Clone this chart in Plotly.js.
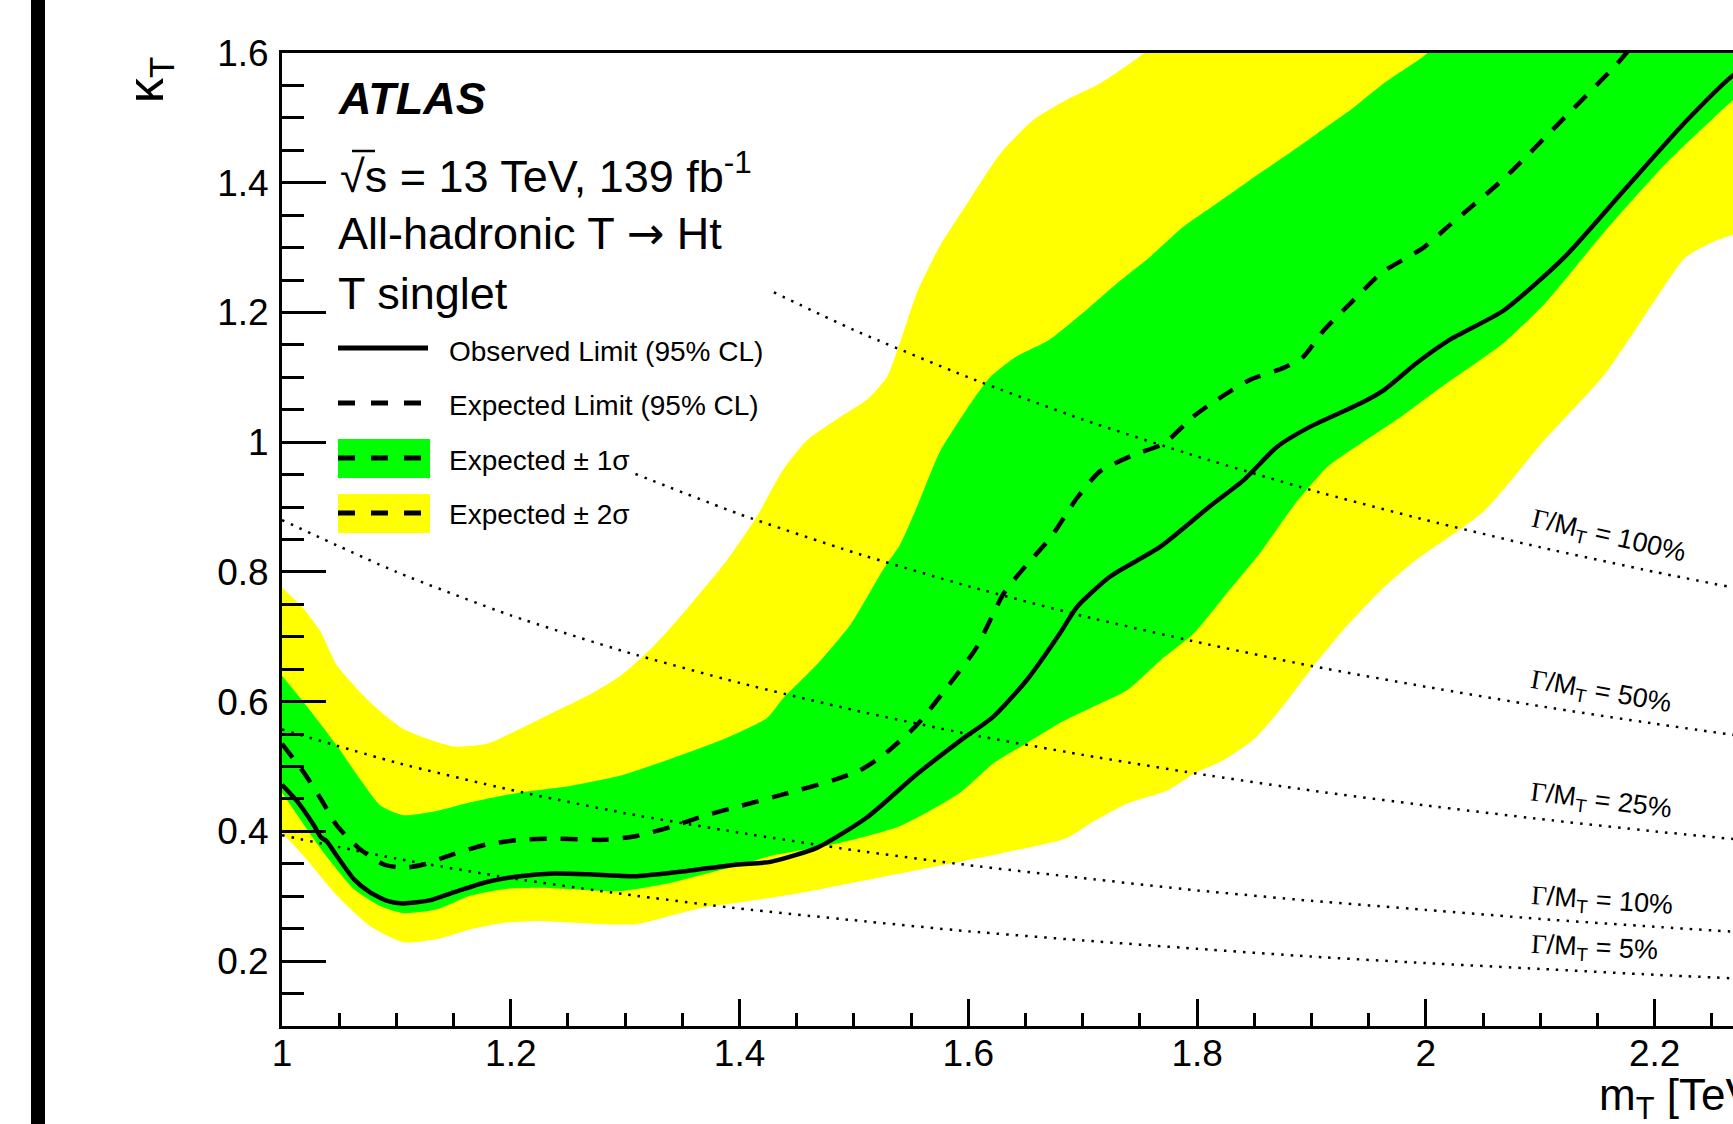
<!DOCTYPE html>
<html>
<head>
<meta charset="utf-8">
<script src="https://cdn.plot.ly/plotly-3.0.1.min.js"></script>
<style>
html,body{margin:0;padding:0;background:#fff;overflow:hidden;}
#chart{width:1733px;height:1124px;}
</style>
</head>
<body>
<div id="chart"></div>
<script>
// ---------------- data ----------------
const obsM = [1.000,1.013,1.028,1.034,1.039,1.048,1.063,1.077,1.092,1.106,1.130,1.150,1.179,1.208,1.238,1.267,1.310,1.354,1.398,1.427,1.468,1.511,1.555,1.593,1.622,1.651,1.680,1.695,1.724,1.768,1.811,1.841,1.870,1.899,1.943,1.963,1.992,2.021,2.068,2.121,2.174,2.227,2.269,2.290];
const obsK = [0.472,0.447,0.409,0.391,0.385,0.362,0.326,0.306,0.293,0.289,0.294,0.306,0.322,0.331,0.335,0.334,0.331,0.339,0.349,0.353,0.375,0.421,0.488,0.540,0.577,0.633,0.705,0.746,0.793,0.839,0.901,0.942,0.993,1.024,1.060,1.080,1.122,1.158,1.203,1.285,1.390,1.494,1.566,1.585];

const expM = [1.000,1.019,1.034,1.048,1.068,1.089,1.106,1.124,1.150,1.179,1.208,1.238,1.281,1.310,1.340,1.369,1.398,1.438,1.482,1.505,1.526,1.555,1.584,1.607,1.631,1.651,1.672,1.695,1.715,1.744,1.771,1.797,1.817,1.846,1.876,1.893,1.911,1.934,1.962,1.998,2.021,2.068,2.121,2.167,2.180];
const expK = [0.535,0.491,0.450,0.409,0.373,0.349,0.344,0.349,0.365,0.380,0.387,0.389,0.387,0.393,0.407,0.424,0.438,0.457,0.479,0.494,0.518,0.564,0.628,0.683,0.767,0.811,0.853,0.914,0.955,0.980,0.998,1.040,1.065,1.096,1.115,1.132,1.173,1.214,1.262,1.300,1.335,1.406,1.500,1.583,1.610];

const up1M = [1.000,1.019,1.048,1.068,1.086,1.106,1.136,1.165,1.208,1.252,1.296,1.340,1.383,1.424,1.438,1.468,1.497,1.526,1.540,1.555,1.575,1.599,1.619,1.642,1.671,1.700,1.730,1.759,1.788,1.817,1.846,1.876,1.905,1.934,1.963,1.998,2.030,2.150,2.300];
const up1K = [0.640,0.599,0.532,0.481,0.440,0.425,0.432,0.445,0.460,0.470,0.486,0.512,0.540,0.575,0.605,0.658,0.719,0.805,0.841,0.900,0.985,1.052,1.100,1.132,1.158,1.199,1.245,1.286,1.332,1.368,1.404,1.440,1.476,1.512,1.553,1.595,1.640,1.700,1.720];

const lo1M = [1.000,1.034,1.063,1.086,1.106,1.136,1.165,1.194,1.223,1.252,1.296,1.340,1.369,1.398,1.427,1.482,1.540,1.593,1.622,1.651,1.680,1.709,1.739,1.768,1.797,1.826,1.855,1.884,1.914,1.943,1.978,2.015,2.068,2.104,2.156,2.209,2.269,2.300];
const lo1K = [0.460,0.373,0.311,0.285,0.274,0.280,0.301,0.311,0.313,0.311,0.308,0.321,0.334,0.347,0.362,0.380,0.408,0.460,0.505,0.536,0.567,0.592,0.618,0.664,0.705,0.767,0.829,0.901,0.962,0.998,1.039,1.087,1.153,1.214,1.324,1.428,1.528,1.570];

const up2M = [1.000,1.019,1.034,1.048,1.077,1.106,1.150,1.179,1.208,1.238,1.267,1.296,1.325,1.354,1.389,1.415,1.438,1.459,1.488,1.511,1.529,1.540,1.555,1.575,1.599,1.628,1.657,1.686,1.715,1.750,1.780,1.900,2.300];
const up2K = [0.776,0.743,0.707,0.656,0.599,0.558,0.531,0.535,0.558,0.584,0.609,0.640,0.686,0.743,0.818,0.885,0.957,1.003,1.039,1.065,1.101,1.152,1.230,1.302,1.368,1.445,1.497,1.528,1.553,1.595,1.640,1.700,1.720];

const lo2M = [1.000,1.019,1.048,1.077,1.106,1.136,1.165,1.194,1.223,1.281,1.310,1.340,1.369,1.398,1.453,1.540,1.628,1.686,1.709,1.739,1.774,1.797,1.821,1.849,1.870,1.899,1.928,1.962,1.991,2.051,2.104,2.156,2.192,2.227,2.250,2.269,2.300];
const lo2K = [0.398,0.362,0.301,0.254,0.229,0.234,0.249,0.259,0.262,0.257,0.257,0.270,0.283,0.290,0.305,0.335,0.366,0.390,0.415,0.443,0.463,0.489,0.508,0.541,0.582,0.649,0.711,0.774,0.818,0.894,1.004,1.104,1.197,1.285,1.308,1.320,1.335];

// constant width curves Gamma/M_T
const w100M = [1.43,1.5,1.6,1.7,1.8,1.9,2.0,2.1,2.2,2.3];
const w100K = [1.231,1.173,1.100,1.035,0.978,0.926,0.880,0.838,0.800,0.765];
const w50M  = [1.309,1.4,1.5,1.6,1.7,1.8,1.9,2.0,2.1,2.2,2.3];
const w50K  = [0.951,0.889,0.830,0.778,0.732,0.692,0.655,0.623,0.593,0.566,0.541];
const wM    = [1.0,1.1,1.2,1.3,1.4,1.5,1.6,1.7,1.8,1.9,2.0,2.1,2.2,2.3];
const w25K  = [0.880,0.800,0.733,0.677,0.629,0.587,0.550,0.518,0.489,0.463,0.440,0.419,0.400,0.383];
const w10K  = [0.557,0.506,0.464,0.428,0.398,0.371,0.348,0.328,0.309,0.293,0.279,0.265,0.253,0.242];
const w5K   = [0.394,0.358,0.328,0.303,0.281,0.263,0.246,0.232,0.219,0.207,0.197,0.188,0.179,0.171];

const widthLabels = ["100%","50%","25%","10%","5%"];
const legendLabels = ["Observed Limit (95% CL)","Expected Limit (95% CL)","Expected \u00b1 1\u03c3","Expected \u00b1 2\u03c3"];

// ---------------- styling ----------------
const GREEN = "#00ff00", YELLOW = "#ffff00";
const FONT = "Liberation Sans, Arial, sans-serif";
const SPL = {shape:"spline", smoothing:0.6};
const LW = 4.5;

// plot-area geometry in pixels
const L = 282, T = 53, W = 1451, H = 973;
const px = X => (X - L) / W;
const py = Y => (T + H - Y) / H;

const traces = [
  {x: lo2M, y: lo2K, mode:"lines", line:Object.assign({width:0,color:YELLOW},SPL), hoverinfo:"skip"},
  {x: up2M, y: up2K, mode:"lines", fill:"tonexty", fillcolor:YELLOW, line:Object.assign({width:0,color:YELLOW},SPL), hoverinfo:"skip"},
  {x: lo1M, y: lo1K, mode:"lines", line:Object.assign({width:0,color:GREEN},SPL), hoverinfo:"skip"},
  {x: up1M, y: up1K, mode:"lines", fill:"tonexty", fillcolor:GREEN, line:Object.assign({width:0,color:GREEN},SPL), hoverinfo:"skip"}
];
const dotted = [[w100M,w100K],[w50M,w50K],[wM,w25K],[wM,w10K],[wM,w5K]];
dotted.forEach(d => traces.push({x:d[0], y:d[1], mode:"lines",
  line:{color:"black", width:2.5, dash:"2.5px,7px", shape:"spline", smoothing:0.6}, hoverinfo:"skip"}));
traces.push({x: expM, y: expK, mode:"lines", line:Object.assign({color:"black", width:LW, dash:"17px,14px"},SPL), hoverinfo:"skip"});
traces.push({x: obsM, y: obsK, mode:"lines", line:Object.assign({color:"black", width:LW},SPL), hoverinfo:"skip"});

// ---------------- annotations ----------------
const ann = [];
function txt(X, Y, text, size, opts) {
  ann.push(Object.assign({xref:"paper", yref:"paper", x:px(X), y:py(Y), text:text, showarrow:false,
    xanchor:"left", yanchor:"middle", font:{family:FONT, size:size, color:"black"}}, opts||{}));
}
txt(336, 99, "<b><i>ATLAS</i></b>", 45);
txt(338, 173, "\u221as = 13 TeV, 139 fb<sup>-1</sup>", 45);
txt(336, 233, "All-hadronic T <span style='font-family:DejaVu Sans'>\u2192</span> Ht", 45);
txt(336, 293, "T singlet", 45);
const legY = [351, 405, 460, 514];
legendLabels.forEach((t,i) => txt(447, legY[i], t, 28));

// width-curve labels
const labPos = [[1608,537,13],[1601,693,10],[1601,802,7],[1602,902,4],[1594,949,3]];
widthLabels.forEach((t,i) => {
  txt(labPos[i][0], labPos[i][1],
    "<span style='font-family:Liberation Serif, Times New Roman, serif'>\u0393</span>/M<sub>T</sub> = " + t,
    27, {xanchor:"center", textangle:labPos[i][2]});
});

// axis titles
txt(150, 80, "\u03ba<sub>T</sub>", 50, {xanchor:"center", textangle:-90});
txt(1597, 1098, "m<sub>T</sub> [TeV]", 44);

// ---------------- shapes (legend symbols, frame decorations) ----------------
const shapes = [
  {type:"rect", xref:"paper", yref:"paper", x0:px(31), x1:px(45), y0:py(1130), y1:py(-10), fillcolor:"black", line:{width:0}},
  {type:"line", xref:"paper", yref:"paper", x0:px(338), x1:px(428), y0:py(348), y1:py(348), line:{color:"black", width:5}},
  {type:"line", xref:"paper", yref:"paper", x0:px(338), x1:px(428), y0:py(403), y1:py(403), line:{color:"black", width:5, dash:"17px,16px"}},
  {type:"rect", xref:"paper", yref:"paper", x0:px(338), x1:px(430), y0:py(478), y1:py(439), fillcolor:GREEN, line:{width:0}},
  {type:"line", xref:"paper", yref:"paper", x0:px(338), x1:px(428), y0:py(458), y1:py(458), line:{color:"black", width:5, dash:"17px,16px"}},
  {type:"rect", xref:"paper", yref:"paper", x0:px(338), x1:px(430), y0:py(533), y1:py(494), fillcolor:YELLOW, line:{width:0}},
  {type:"line", xref:"paper", yref:"paper", x0:px(338), x1:px(428), y0:py(513), y1:py(513), line:{color:"black", width:5, dash:"17px,16px"}},
  // overline of the square-root sign
  {type:"line", xref:"paper", yref:"paper", x0:px(352), x1:px(375), y0:py(151), y1:py(151), line:{color:"black", width:2.5}}
];

const axisCommon = {
  showline:true, linecolor:"black", linewidth:3, mirror:true,
  ticks:"inside", tickcolor:"black", tickwidth:3,
  showgrid:false, zeroline:false, fixedrange:true,
  tickfont:{family:FONT, size:37, color:"black"}
};

const layout = {
  width:1733, height:1124,
  margin:{l:L, r:1733-L-W, t:T, b:1124-T-H, pad:0},
  paper_bgcolor:"white", plot_bgcolor:"white",
  showlegend:false,
  xaxis:Object.assign({}, axisCommon, {
    range:[1, 1 + W/1143.9], tick0:1, dtick:0.2, ticklen:27,
    ticklabelstandoff:-7,
    minor:{dtick:0.05, ticklen:13, tickwidth:3, tickcolor:"black", ticks:"inside", showgrid:false}
  }),
  yaxis:Object.assign({}, axisCommon, {
    range:[0.1, 1.6], tick0:0, dtick:0.2, ticklen:44,
    ticklabelstandoff:3,
    minor:{dtick:0.05, ticklen:22, tickwidth:3, tickcolor:"black", ticks:"inside", showgrid:false}
  }),
  annotations:ann,
  shapes:shapes
};

Plotly.newPlot("chart", traces, layout, {staticPlot:true, displayModeBar:false});
</script>
</body>
</html>
